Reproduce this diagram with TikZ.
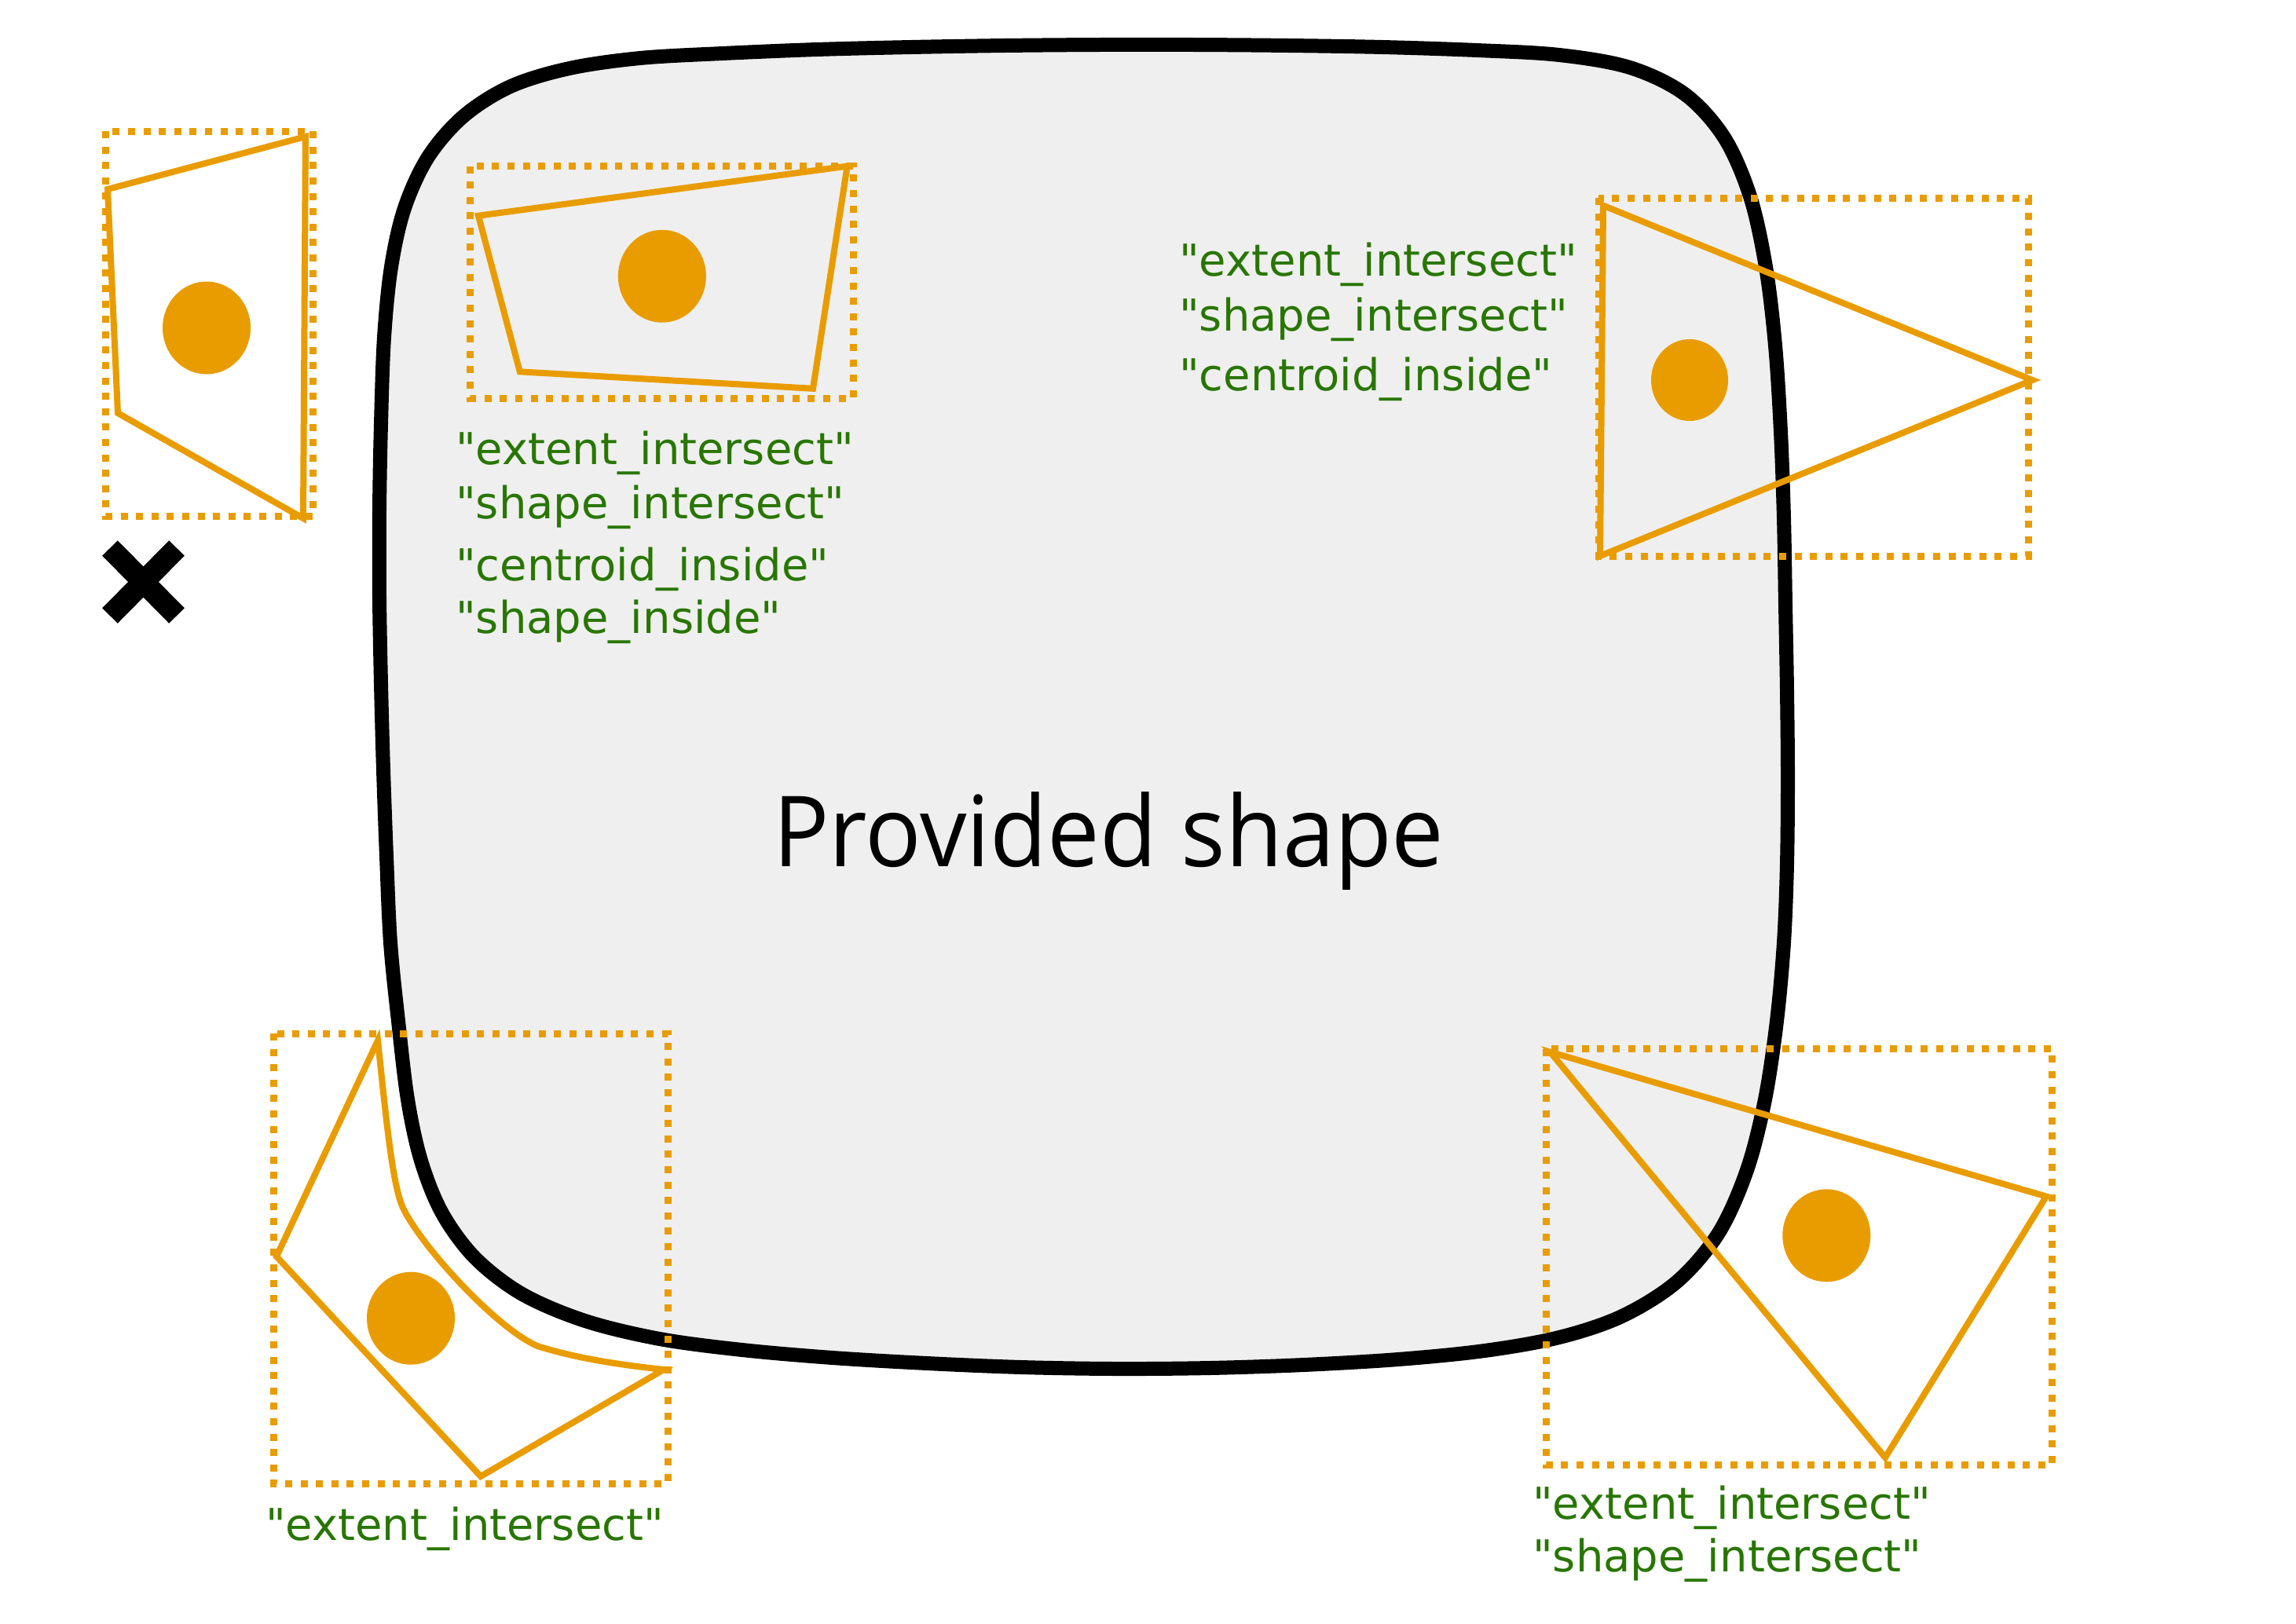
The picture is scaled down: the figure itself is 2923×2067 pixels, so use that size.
\documentclass[tikz,border=0pt]{standalone}
\usepackage{fontspec}
\newfontfamily\labelfont{DejaVu Sans}
\newfontfamily\titlefont{Open Sans}
\definecolor{amber}{RGB}{233,156,0}
\definecolor{leafgreen}{RGB}{40,118,0}
\definecolor{shapegray}{RGB}{239,239,239}
\begin{document}
\begin{tikzpicture}[x=1pt,y=-1pt,
  outline/.style={draw=black,line width=18pt,fill=shapegray},
  bbox/.style={draw=amber,line width=9pt,dash pattern=on 9pt off 10.6pt},
  geom/.style={draw=amber,line width=8pt,line join=miter},
  centroid/.style={fill=amber},
  tag/.style={anchor=base west,inner sep=0pt,text=leafgreen,
    font=\labelfont\fontsize{56}{67}\selectfont},
  title/.style={anchor=base west,inner sep=0pt,
    font=\titlefont\fontsize{125}{150}\selectfont}]
% canvas
\fill[white] (0,0) rectangle (2923,2067);
\useasboundingbox (0,0) rectangle (2923,2067);

% the provided shape: a rounded, slightly irregular blob
\draw[outline] plot[smooth cycle,tension=0.55] coordinates {
  (497,1200) (492,1090) (488,980) (485,870) (483,760) (483,650) (485,540)
  (489,430) (498,340) (515,265) (545,200) (590,148) (650,110) (725,87)
  (815,74) (920,68) (1040,63) (1160,60) (1280,58) (1400,57) (1520,57)
  (1640,58) (1760,60) (1880,64) (1985,70) (2075,86) (2145,120) (2195,175)
  (2228,250) (2248,340) (2260,440) (2267,550) (2271,660) (2273,770)
  (2275,880) (2276,990) (2275,1100) (2271,1200) (2262,1300) (2247,1400)
  (2224,1490) (2188,1570) (2135,1632) (2065,1676) (1985,1703) (1890,1720)
  (1780,1731) (1660,1738) (1540,1742) (1420,1743) (1300,1741) (1180,1736)
  (1060,1729) (945,1719) (840,1705) (745,1682) (665,1648) (605,1602)
  (563,1545) (536,1478) (519,1400) (507,1300)};
\node[xscale=0.95,title] (caption) at (984,1103) {Provided shape};

% outside: rejected
\draw[bbox] (134,167) rectangle (398,657);
\draw[geom] (137,241) -- (389,174) -- (386,660) -- (150,526) -- cycle;
\fill[centroid] (263,417.5) ellipse [x radius=56, y radius=59];
\draw[line width=27.6pt] (140,698) -- (225,784) (140,784) -- (225,698);

% fully inside
\draw[bbox] (598.6,211.6) rectangle (1086,507);
\draw[geom] (609,274.7) -- (1078.6,211.6) -- (1035,494.8) -- (661.8,473.3) -- cycle;
\fill[centroid] (842.9,351.7) ellipse [x radius=56, y radius=59];
\node[tag] (in1) at (580,591.7) {"extent\_intersect"};
\node[tag] (in2) at (580,660.7) {"shape\_intersect"};
\node[tag] (in3) at (580,739) {"centroid\_inside"};
\node[tag] (in4) at (580,806.7) {"shape\_inside"};

% crossing the right edge, centroid inside
\draw[bbox] (2035,252) rectangle (2582,708);
\draw[geom] (2041,261.7) -- (2587.5,484) -- (2037,708) -- cycle;
\fill[centroid] (2151,484) ellipse [x radius=49, y radius=52];
\node[tag] (ri1) at (1501,351.7) {"extent\_intersect"};
\node[tag] (ri2) at (1501,421) {"shape\_intersect"};
\node[tag] (ri3) at (1501,497) {"centroid\_inside"};

% bounding box touches, shape stays outside
\draw[bbox] (348,1316) rectangle (850,1889);
\draw[geom] (481,1325) .. controls (492,1430) and (500,1510) .. (513,1538)
  .. controls (535,1585) and (630,1690) .. (684,1714)
  .. controls (735,1730) and (790,1738) .. (845,1744)
  -- (612,1880) -- (352,1600) -- cycle;
\fill[centroid] (523,1678.7) ellipse [x radius=56, y radius=59];
\node[tag] (bl1) at (338,1961) {"extent\_intersect"};

% crossing the lower right corner, centroid outside
\draw[bbox] (1968,1335.5) rectangle (2612.5,1865);
\draw[geom] (1973.5,1339.6) -- (2605,1523.5) -- (2400,1856) -- cycle;
\fill[centroid] (2325.3,1573.3) ellipse [x radius=56, y radius=59];
\node[tag] (br1) at (1951,1934) {"extent\_intersect"};
\node[tag] (br2) at (1951,2001) {"shape\_intersect"};
\end{tikzpicture}
\end{document}
